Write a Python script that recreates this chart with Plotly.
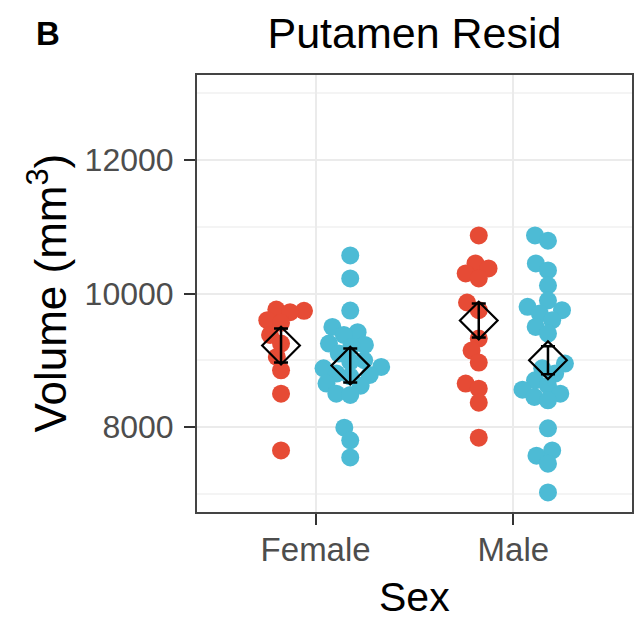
import math
import plotly.graph_objects as go

# ---- data ----
categories = ["Female", "Male"]

female_red = [9760, 9740, 9720, 9600, 9560, 9380, 9250, 9050, 8850, 8500, 7650]
female_blue = [10570, 10225, 9745, 9500, 9420, 9380, 9250, 9230, 9200, 9100, 9000,
               8980, 8900, 8880, 8800, 8780, 8760, 8650, 8620, 8500, 8480, 7990, 7800, 7545]
male_red = [10870, 10450, 10375, 10300, 10225, 9865, 9750, 9325, 9145, 8965, 8650, 8575, 8365, 7840]
male_blue = [10870, 10790, 10450, 10345, 10120, 9895, 9800, 9750, 9700, 9600, 9500, 9400,
             8950, 8880, 8800, 8700, 8620, 8560, 8500, 8450, 8400, 7980, 7650, 7570, 7450, 7020]

red_means = [9220, 9595]
red_err = [255, 255]
blue_means = [8920, 9000]
blue_err = [255, 210]

yticks = [8000, 10000, 12000]
y_range = [6727, 13273]
x_range = [-0.6, 1.6]

RED = "#E64B35"
BLUE = "#4DBBD5"
DODGE = 0.175

# ---- layout geometry ----
W, H = 634, 623
ML, MR, MT, MB = 197, 2, 75, 111
PW, PH = W - ML - MR, H - MT - MB
px_x = PW / (x_range[1] - x_range[0])
px_y = PH / (y_range[1] - y_range[0])


def swarm(values, d=14.0):
    """Deterministic beeswarm offsets (in x data units)."""
    order = sorted(range(len(values)), key=lambda i: values[i])
    placed = []
    offs = [0.0] * len(values)
    for i in order:
        yp = values[i] * px_y
        cands = [0.0]
        for xp, yq in placed:
            dy = yp - yq
            if abs(dy) < d:
                dx = math.sqrt(d * d - dy * dy)
                cands += [xp + dx, xp - dx]
        cands.sort(key=lambda c: (abs(c), c))
        for c in cands:
            if all((c - xp) ** 2 + (yp - yq) ** 2 >= d * d - 1e-6 for xp, yq in placed):
                placed.append((c, yp))
                offs[i] = c / px_x
                break
    return offs


fig = go.Figure()

series = [
    (0, -DODGE, female_red, RED),
    (0, DODGE, female_blue, BLUE),
    (1, -DODGE, male_red, RED),
    (1, DODGE, male_blue, BLUE),
]
for ci, dg, vals, col in series:
    offs = swarm(vals)
    fig.add_trace(go.Scatter(
        x=[ci + dg + o for o in offs], y=vals, mode="markers",
        marker=dict(size=18, color=col, line=dict(width=0)),
        showlegend=False, hoverinfo="y"))

for means, errs, dg in [(red_means, red_err, -DODGE), (blue_means, blue_err, DODGE)]:
    xs = [i + dg for i in range(len(categories))]
    fig.add_trace(go.Scatter(
        x=xs, y=means, mode="markers",
        marker=dict(symbol="diamond-open", size=29, color="black", line=dict(width=2.2, color="black")),
        showlegend=False))
    fig.add_trace(go.Scatter(
        x=xs, y=means, mode="markers",
        marker=dict(size=1, color="rgba(0,0,0,0)"),
        error_y=dict(type="data", array=errs, visible=True, color="black", thickness=2.5, width=7),
        showlegend=False))

FONT = "Liberation Sans, Arial, Helvetica, sans-serif"

axis_common = dict(
    showgrid=True, gridcolor="#EBEBEB", gridwidth=2, zeroline=False,
    ticks="outside", ticklen=11, tickwidth=2, tickcolor="#333333",
    showline=True, linecolor="#444444", linewidth=2, mirror=True,
)

fig.update_layout(
    width=W, height=H,
    margin=dict(l=ML, r=MR, t=MT, b=MB, autoexpand=False),
    paper_bgcolor="white", plot_bgcolor="white",
    font=dict(family=FONT, color="#4D4D4D"),
    title=dict(text="Putamen Resid", x=(ML + PW / 2) / W, xref="container", xanchor="center",
               y=1 - 33 / H, yref="container", yanchor="middle",
               font=dict(size=43, color="black", family=FONT)),
    xaxis=dict(range=x_range, tickvals=[0, 1], ticktext=categories, ticklabelstandoff=-4,
               tickfont=dict(size=33, color="#4D4D4D"), **axis_common),
    yaxis=dict(range=y_range, tickvals=yticks, ticktext=[str(t) for t in yticks], ticklabelstandoff=4,
               minor=dict(dtick=1000, tick0=7000, showgrid=True, gridcolor="#F4F4F4", gridwidth=1.5),
               tickfont=dict(size=32, color="#4D4D4D"), **axis_common),
    annotations=[
        dict(text="<b>B</b>", xref="paper", yref="paper",
             x=(48 - ML) / PW, y=1 + (MT - 34) / PH, xanchor="center", yanchor="middle",
             showarrow=False, font=dict(size=33, color="black", family=FONT)),
        dict(text="Volume (mm<sup>3</sup>)", xref="paper", yref="paper",
             x=(47 - ML) / PW, y=0.5, xanchor="center", yanchor="middle", textangle=-90,
             showarrow=False, font=dict(size=44, color="black", family=FONT)),
        dict(text="Sex", xref="paper", yref="paper",
             x=0.5, y=-(597 - (MT + PH)) / PH, xanchor="center", yanchor="middle",
             showarrow=False, font=dict(size=41, color="black", family=FONT)),
    ],
)

fig.write_html("out.html", config={"displayModeBar": False},
               post_script="document.body.style.margin='0';document.body.style.overflow='hidden';")
